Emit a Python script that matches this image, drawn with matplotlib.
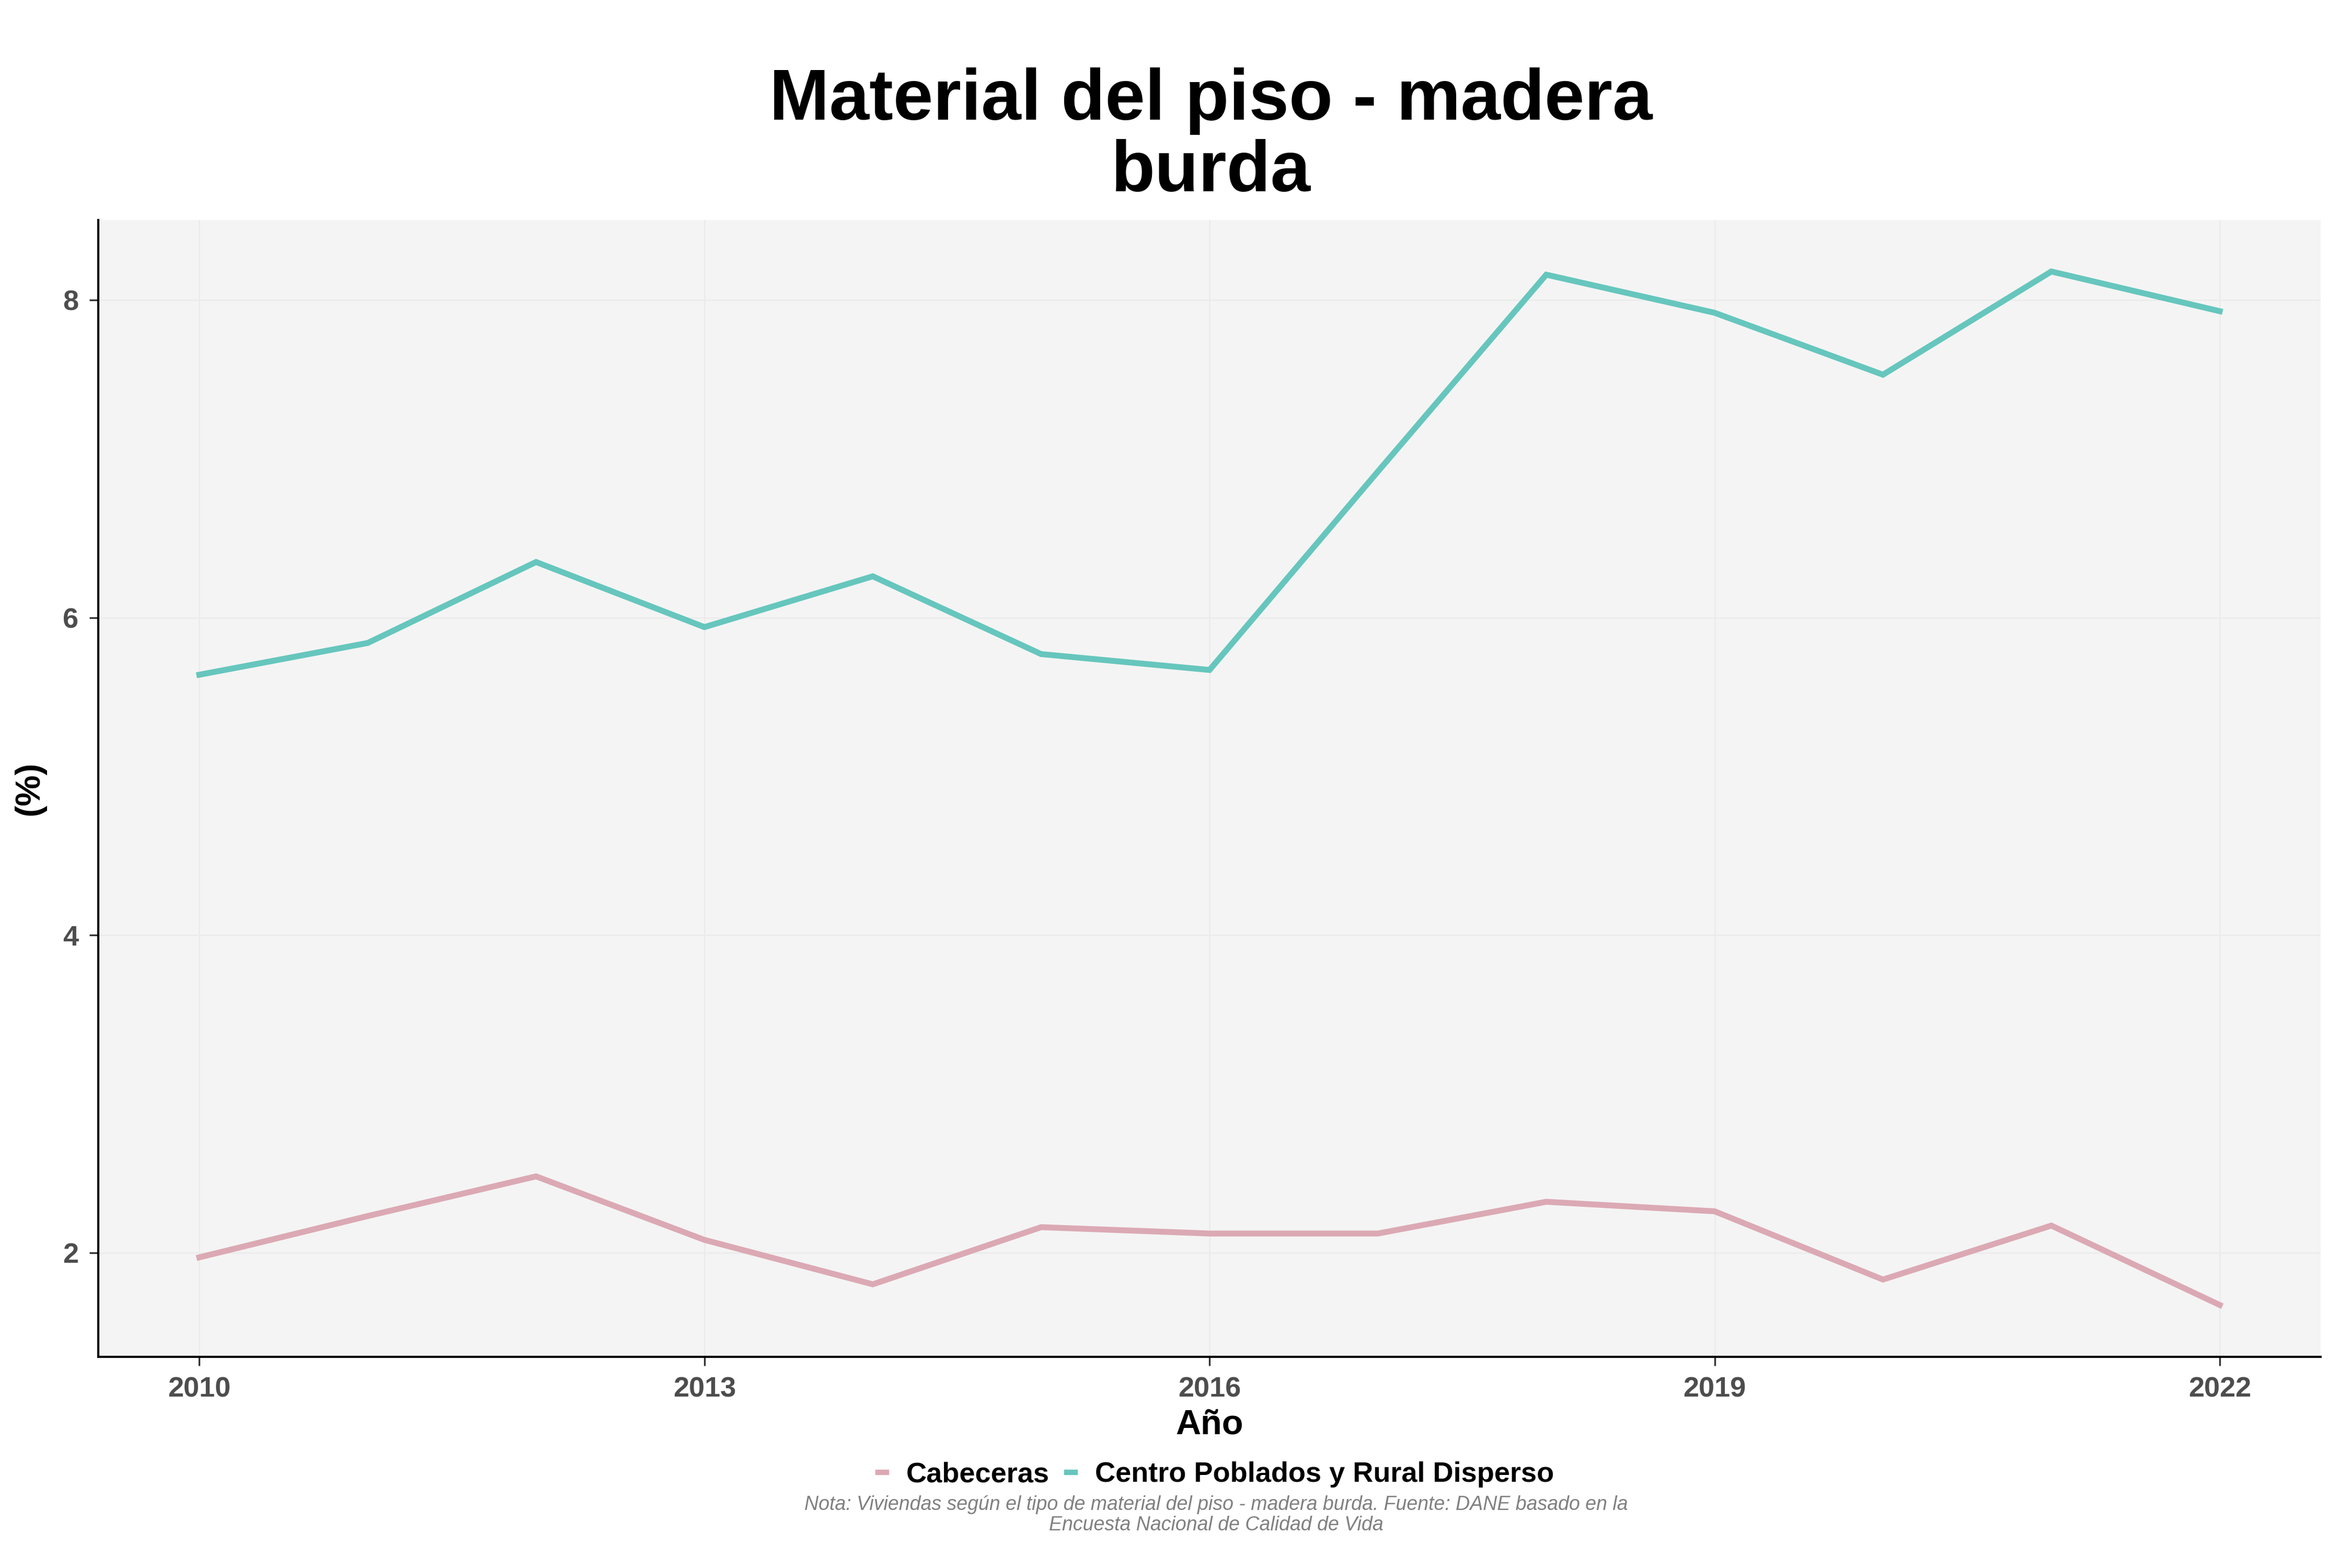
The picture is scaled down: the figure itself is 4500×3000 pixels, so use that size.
import matplotlib
matplotlib.use("Agg")
import matplotlib.pyplot as plt
from matplotlib.lines import Line2D

plt.rcParams['font.family'] = ['Liberation Sans', 'DejaVu Sans']

years = [2010, 2011, 2012, 2013, 2014, 2015, 2016, 2017, 2018, 2019, 2020, 2021, 2022]
cabeceras = [1.97, 2.23, 2.48, 2.08, 1.80, 2.16, 2.12, 2.12, 2.32, 2.26, 1.83, 2.17, 1.67]
rural = [5.64, 5.84, 6.35, 5.94, 6.26, 5.77, 5.67, 6.92, 8.16, 7.92, 7.53, 8.18, 7.93]
series_names = ["Cabeceras", "Centro Poblados y Rural Disperso"]
series_colors = ["#dba9b4", "#66c6bd"]
x_ticks = [2010, 2013, 2016, 2019, 2022]
y_ticks = [2, 4, 6, 8]

title = "Material del piso - madera\nburda"
xlabel = "Año"
ylabel = "(%)"
caption = ("Nota: Viviendas según el tipo de material del piso - madera burda. Fuente: DANE basado en la\n"
           "Encuesta Nacional de Calidad de Vida")

fig = plt.figure(figsize=(15, 10), dpi=300)
ax = fig.add_axes([0.0418, 0.1348, 0.9449, 0.7250])
ax.set_facecolor("#f4f4f4")

for vals, name, col in zip([cabeceras, rural], series_names, series_colors):
    ax.plot(years, vals, color=col, lw=2.7, solid_joinstyle='miter', label=name, zorder=3)

allv = cabeceras + rural
lo, hi = min(allv), max(allv)
pad = (hi - lo) * 0.05
ax.set_ylim(lo - pad, hi + pad)
xp = (max(years) - min(years)) * 0.05
ax.set_xlim(min(years) - xp, max(years) + xp)

ax.set_xticks(x_ticks)
ax.set_yticks(y_ticks)
ax.set_xticklabels([str(t) for t in x_ticks])
ax.set_yticklabels([str(t) for t in y_ticks])
ax.grid(True, color="#ebebeb", lw=0.6, zorder=0)
ax.set_axisbelow(True)
for s in ["top", "right"]:
    ax.spines[s].set_visible(False)
for s in ["left", "bottom"]:
    ax.spines[s].set_color("black")
    ax.spines[s].set_linewidth(1.0)
ax.tick_params(axis='both', colors="#333333", length=4, width=0.8, labelsize=13,
               labelcolor="#4d4d4d", pad=5)
for lab in ax.get_xticklabels() + ax.get_yticklabels():
    lab.set_fontweight('bold')

ax.set_xlabel(xlabel, fontsize=16, fontweight='bold', labelpad=3)
ax.set_ylabel(ylabel, fontsize=16, fontweight='bold', labelpad=8)

fig.text(0.5148, 0.878, title, ha='center', va='baseline', fontsize=33, fontweight='bold',
         linespacing=1.08)

handles = [Line2D([0], [0], color=c, lw=2.5) for c in series_colors]
fig.legend(handles, series_names, loc='center', bbox_to_anchor=(0.517, 0.0595), ncol=2,
           frameon=False, handlelength=0.3, handletextpad=0.7, columnspacing=0.6,
           prop={'weight': 'bold', 'size': 13})

fig.text(0.517, 0.0215, caption, ha='center', va='bottom', fontsize=9, style='italic',
         color="#808080", linespacing=1.1)

fig.savefig("out.png", dpi=300, facecolor="white")
